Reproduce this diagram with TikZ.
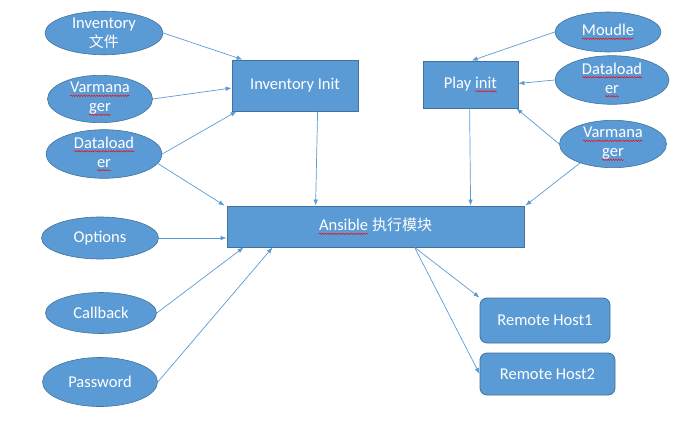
\documentclass[tikz,border=0pt]{standalone}
\usepackage{fontspec}
\setmainfont{Carlito}
\newfontfamily\cjk{Noto Sans CJK SC}
\usetikzlibrary{shapes.geometric,arrows.meta,calc,decorations.pathmorphing}
\definecolor{fillb}{HTML}{5B9BD5}
\definecolor{edgeb}{HTML}{41719C}
\definecolor{lineb}{HTML}{5B9BD5}
\newcommand\sq[1]{\tikz[baseline=(sqt.base),x=1pt,y=1pt]{\node[shape=rectangle,draw=none,fill=none,minimum width=0pt,minimum height=0pt,inner sep=0pt,outer sep=0pt,text=white,align=left] (sqt) {#1};
  \draw[red,line width=0.45pt,decorate,decoration={snake,amplitude=0.7pt,segment length=2.6pt}]
  ([yshift=-3pt]sqt.base west) -- ([yshift=-3pt]sqt.base east);}}
\tikzset{
  ell/.style={ellipse,draw=edgeb,fill=fillb,text=white,inner sep=0pt,align=center,line width=0.6pt,
    font=\fontsize{16.5}{19}\selectfont},
  boxn/.style={rectangle,draw=edgeb,fill=fillb,text=white,inner sep=0pt,align=center,line width=0.8pt,
    font=\fontsize{16.5}{19}\selectfont},
  rbox/.style={boxn,rounded corners=7pt},
  conn/.style={draw=lineb,line width=0.7pt,-{Latex[length=6pt,width=4.5pt]}}
}
\begin{document}
\begin{tikzpicture}[x=1pt,y=-1pt]
\useasboundingbox (0,0) rectangle (681,428);
% ellipses left
\node[ell,minimum width=118pt,minimum height=43pt] (inv) at (104,33) {Inventory\\{\cjk\fontsize{15}{19}\selectfont 文件}};
\node[ell,minimum width=105pt,minimum height=40pt] (vm1) at (100,99) {\sq{Varmana}\\\sq{ger}};
\node[ell,minimum width=116pt,minimum height=40pt] (dl1) at (104,154) {\sq{Dataload}\\\sq{er}};
\node[ell,minimum width=117pt,minimum height=42pt] (opt) at (100,238) {Options};
\node[ell,minimum width=111pt,minimum height=41pt] (cb) at (101,313) {Callback};
\node[ell,minimum width=115pt,minimum height=49pt] (pw) at (100,382) {Password};
% ellipses right
\node[ell,minimum width=106pt,minimum height=40pt] (mo) at (608,32) {\sq{Moudle}};
\node[ell,minimum width=114pt,minimum height=39pt] (dl2) at (612,80) {\sq{Dataload}\\\sq{er}};
\node[ell,minimum width=107pt,minimum height=40pt] (vm2) at (613,144) {\sq{Varmana}\\\sq{ger}};
% boxes
\node[boxn,minimum width=126pt,minimum height=51pt] (ii) at (295,85.5) {Inventory Init};
\node[boxn,minimum width=95pt,minimum height=47pt] (pi) at (470.5,84.5) {Play \sq{init}};
\node[boxn,minimum width=297pt,minimum height=41pt] (ans) at (375.5,226.5) {\sq{Ansible} {\cjk\fontsize{15}{19}\selectfont 执行模块}};
\node[rbox,minimum width=130pt,minimum height=45pt] (rh1) at (545,320.5) {Remote Host1};
\node[rbox,minimum width=135pt,minimum height=42pt] (rh2) at (547.5,374) {Remote Host2};
% connectors
\draw[conn] (inv.east) -- ([xshift=11pt]ii.north west);
\draw[conn] (vm1.east) -- ([yshift=-2.5pt]ii.west);
\draw[conn] (dl1.east) -- ([xshift=5pt]ii.south west);
\draw[conn] (dl1.-10) -- ([xshift=-2pt]ans.north west);
\draw[conn] (opt.east) -- ([yshift=-11.5pt]ans.west);
\draw[conn] (cb.east) -- ([xshift=17pt]ans.south west);
\draw[conn] (pw.east) -- ([xshift=46pt]ans.south west);
\draw[conn] ([xshift=86pt]ii.south west) -- ([xshift=89pt]ans.north west);
\draw[conn] ([xshift=47pt]pi.south west) -- ([xshift=244pt]ans.north west);
\draw[conn] (mo.west) -- ([xshift=49pt]pi.north west);
\draw[conn] (dl2.west) -- ([yshift=1pt]pi.east);
\draw[conn] (vm2.west) -- ([xshift=-2pt]pi.south east);
\draw[conn] (vm2.-150) -- ([xshift=1pt]ans.north east);
\draw[conn] ([xshift=188pt]ans.south west) -- (rh1.north west);
\draw[conn] ([xshift=188pt]ans.south west) -- (rh2.west);
\end{tikzpicture}
\end{document}
